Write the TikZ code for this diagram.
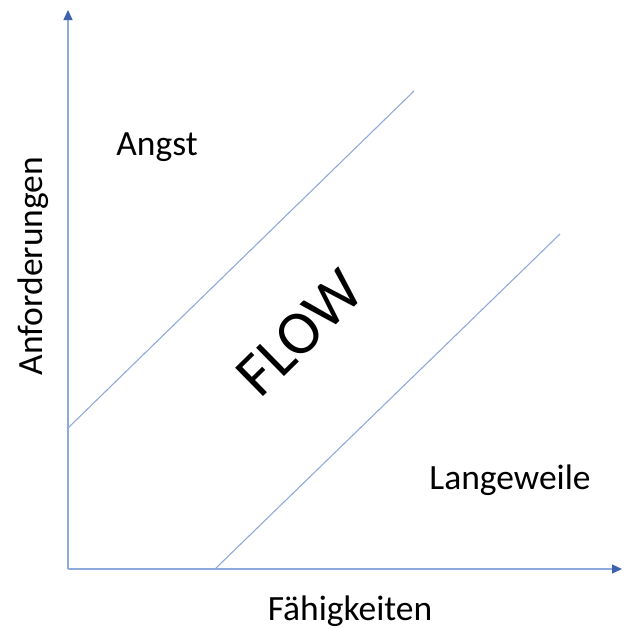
\documentclass[tikz,border=0pt]{standalone}
\usepackage{fontspec}
\setmainfont{Carlito}
\usepackage{xcolor}
\usetikzlibrary{arrows.meta, positioning, calc}
\definecolor{axisblue}{HTML}{8FAADC}
\definecolor{tipblue}{HTML}{3F62AE}

\begin{document}
\begin{tikzpicture}[x=1pt, y=-1pt,
            axis_line/.style={line width=1.3pt, axisblue, -{Triangle[length=10pt, width=9pt, color=tipblue]}},
            zone_line/.style={line width=1.1pt, axisblue},
            label_style/.style={font=\fontsize{35.5}{42}\selectfont, text=black, inner sep=0pt, anchor=base},
            flow_style/.style={font=\fontsize{62}{72}\selectfont, text=black, inner sep=0pt, rotate=44.5}
        ]
            \useasboundingbox (0,0) rectangle (622,629);

            % Axes
            \coordinate (origin) at (68, 569);
            \coordinate (ytip)   at (68, 10);
            \coordinate (xtip)   at (622, 569);
            \draw[axis_line] (origin) -- (ytip);
            \draw[axis_line] (origin) -- (xtip);

            % Flow channel borders
            \coordinate (upper_start) at (68, 428);
            \coordinate (upper_end)   at (414, 91);
            \coordinate (lower_start) at (215, 569);
            \coordinate (lower_end)   at (560, 234);
            \draw[zone_line] (upper_start) -- (upper_end);
            \draw[zone_line] (lower_start) -- (lower_end);

            % Zone labels
            \node[label_style] (angst) at (157, 155) {Angst};
            \node[label_style] (langeweile) at (510, 489) {Langeweile};
            \node[flow_style] (flow) at (300, 333) {FLOW};

            % Axis labels
            \node[label_style] (xlabel) at (350, 620) {Fähigkeiten};
            \node[label_style, rotate=90] (ylabel) at (42, 266) {Anforderungen};

        \end{tikzpicture}
\end{document}
